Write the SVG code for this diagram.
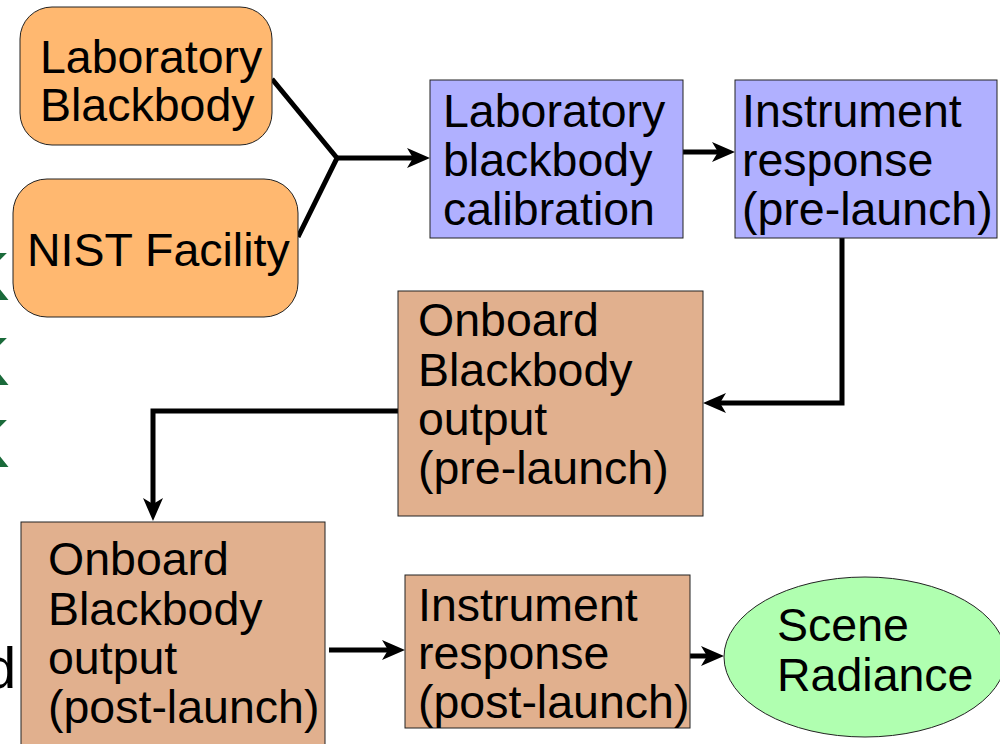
<svg xmlns="http://www.w3.org/2000/svg" width="1000" height="744" viewBox="0 0 1000 744">
  <style>
    .lbl { font-family: "Liberation Sans", Arial, sans-serif; font-size: 46.5px; fill: #000; }
    .src { fill: #ffb870; stroke: #222; stroke-width: 1; }
    .lab { fill: #b0b0ff; stroke: #222; stroke-width: 1; }
    .obb { fill: #e1b08e; stroke: #222; stroke-width: 1; }
    .out { fill: #b0ffb0; stroke: #222; stroke-width: 1; }
    .wire { fill: none; stroke: #000; stroke-width: 5; }
    .edge { font-family: "Liberation Sans", Arial, sans-serif; }
  </style>
  <defs>
    <marker id="head" markerUnits="userSpaceOnUse" viewBox="-24 -11 25 22" markerWidth="25" markerHeight="22" refX="-17" refY="0" orient="auto">
      <path d="M0,0 L-23,-10 L-17,0 L-23,10 Z" fill="#000"/>
    </marker>
  </defs>

  <rect width="1000" height="744" fill="#fff"/>

  <!-- lettering running off the left margin -->
  <g class="edge">
    <text x="-40" y="300" font-size="68" font-weight="bold" fill="#1a6a3a">K</text>
    <text x="-40" y="385" font-size="68" font-weight="bold" fill="#1a6a3a">K</text>
    <text x="-40" y="467" font-size="68" font-weight="bold" fill="#1a6a3a">K</text>
    <text x="-16" y="688" font-size="58" fill="#000">d</text>
  </g>

  <g id="connectors">
    <polyline class="wire" points="272,79 337,158 298,237"/>
    <line class="wire" x1="337" y1="158" x2="413" y2="158" marker-end="url(#head)"/>
    <line class="wire" x1="683" y1="152" x2="718" y2="152" marker-end="url(#head)"/>
    <polyline class="wire" points="842,238 842,403 720,403" marker-end="url(#head)"/>
    <polyline class="wire" points="398,411 153,411 153,504" marker-end="url(#head)"/>
    <line class="wire" x1="329" y1="650" x2="388" y2="650" marker-end="url(#head)"/>
    <line class="wire" x1="684" y1="656" x2="707" y2="656" marker-end="url(#head)"/>
  </g>

  <g id="lab-blackbody">
    <rect class="src" x="20" y="7" width="252" height="138" rx="32" ry="32"/>
    <text class="lbl" x="40" y="73">Laboratory</text>
    <text class="lbl" x="40" y="121">Blackbody</text>
  </g>

  <g id="nist-facility">
    <rect class="src" x="13" y="179" width="285" height="138" rx="34" ry="34"/>
    <text class="lbl" x="27" y="266">NIST Facility</text>
  </g>

  <g id="lab-calibration">
    <rect class="lab" x="430" y="80" width="253" height="158"/>
    <text class="lbl" x="443" y="127">Laboratory</text>
    <text class="lbl" x="443" y="176">blackbody</text>
    <text class="lbl" x="443" y="225">calibration</text>
  </g>

  <g id="response-pre">
    <rect class="lab" x="735" y="80" width="262" height="158"/>
    <text class="lbl" x="742" y="127">Instrument</text>
    <text class="lbl" x="742" y="176">response</text>
    <text class="lbl" x="742" y="225">(pre-launch)</text>
  </g>

  <g id="onboard-pre">
    <rect class="obb" x="398" y="291" width="305" height="225"/>
    <text class="lbl" x="418" y="336">Onboard</text>
    <text class="lbl" x="418" y="386">Blackbody</text>
    <text class="lbl" x="418" y="435">output</text>
    <text class="lbl" x="418" y="484">(pre-launch)</text>
  </g>

  <g id="onboard-post">
    <rect class="obb" x="21" y="522" width="304" height="240"/>
    <text class="lbl" x="48" y="575">Onboard</text>
    <text class="lbl" x="48" y="625">Blackbody</text>
    <text class="lbl" x="48" y="674">output</text>
    <text class="lbl" x="48" y="723">(post-launch)</text>
  </g>

  <g id="response-post">
    <rect class="obb" x="405" y="575" width="285" height="153"/>
    <text class="lbl" x="418" y="621">Instrument</text>
    <text class="lbl" x="418" y="669">response</text>
    <text class="lbl" x="418" y="718">(post-launch)</text>
  </g>

  <g id="scene-radiance">
    <ellipse class="out" cx="865" cy="657" rx="141" ry="80"/>
    <text class="lbl" x="777" y="641">Scene</text>
    <text class="lbl" x="777" y="691">Radiance</text>
  </g>
</svg>
